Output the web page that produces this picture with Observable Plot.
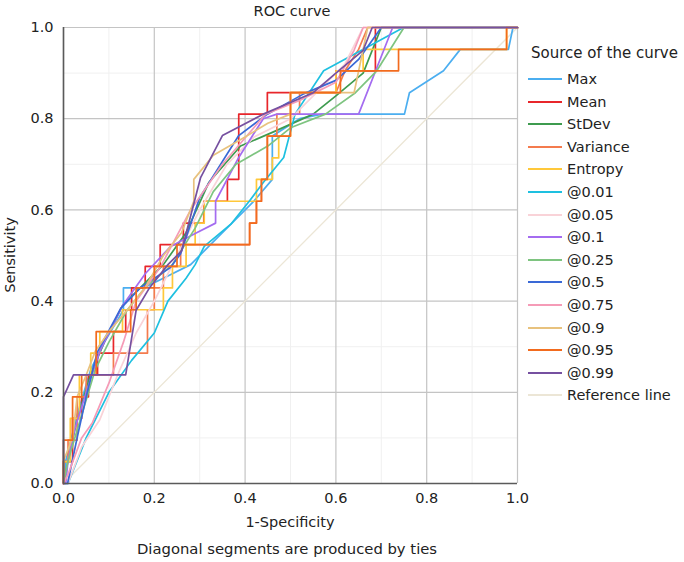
<!DOCTYPE html>
<html><head><meta charset="utf-8">
<script src="https://cdn.jsdelivr.net/npm/d3@7"></script>
<script src="https://cdn.jsdelivr.net/npm/@observablehq/plot@0.6"></script>
<style>
body{margin:0;background:#fff;font-family:"DejaVu Sans",sans-serif;}
#wrap{position:relative;width:684px;height:562px;overflow:hidden;}
.t{position:absolute;color:#222;white-space:nowrap;line-height:1;}
.sw{position:absolute;height:2px;}
</style></head><body><div id="wrap"></div>
<script>
// ---- data ----
const seriesNames = ["Max","Mean","StDev","Variance","Entropy","@0.01","@0.05","@0.1","@0.25","@0.5","@0.75","@0.9","@0.95","@0.99","Reference line"];
const seriesColors = ["#4BAEF0","#E8262B","#3E9B4F","#F47B4E","#FFC83A","#1EC0E0","#F9D3D8","#A46CF0","#7EC480","#3A69D6","#F59BB7","#E8C27E","#F26B1E","#7650A0","#ECE6D6"];
const axisTicks = [0,0.2,0.4,0.6,0.8,1.0];
const minorTicks = [0.1,0.3,0.5,0.7,0.9];

const maxPts = [[0,0],[0.005,0.05],[0.03,0.15],[0.06,0.25],[0.09,0.31],[0.12,0.36],[0.132,0.381],[0.132,0.429],[0.176,0.429],[0.22,0.45],[0.28,0.48],[0.35,0.55],[0.42,0.62],[0.46,0.667],[0.46,0.762],[0.52,0.8],[0.57,0.81],[0.751,0.81],[0.762,0.857],[0.837,0.905],[0.874,0.952],[0.98,0.952],[0.99,1],[1,1]];
const meanPts = [[0,0],[0,0.048],[0.02,0.048],[0.02,0.143],[0.04,0.143],[0.04,0.19],[0.055,0.19],[0.055,0.238],[0.075,0.238],[0.075,0.286],[0.11,0.286],[0.11,0.333],[0.137,0.333],[0.137,0.381],[0.15,0.381],[0.15,0.429],[0.18,0.429],[0.18,0.476],[0.213,0.476],[0.213,0.524],[0.264,0.524],[0.264,0.571],[0.309,0.571],[0.309,0.619],[0.361,0.619],[0.361,0.667],[0.386,0.667],[0.386,0.81],[0.449,0.81],[0.449,0.857],[0.6,0.857],[0.6,0.905],[0.687,0.905],[0.687,1],[1,1]];
const stdevPts = [[0,0],[0.01,0.05],[0.03,0.14],[0.06,0.24],[0.09,0.31],[0.13,0.39],[0.17,0.43],[0.22,0.48],[0.27,0.55],[0.32,0.66],[0.39,0.74],[0.46,0.77],[0.55,0.81],[0.6,0.85],[0.66,0.9],[0.7,1],[1,1]];
const variancePts = [[0,0],[0,0.048],[0.01,0.048],[0.01,0.095],[0.03,0.095],[0.03,0.19],[0.05,0.19],[0.05,0.238],[0.11,0.238],[0.11,0.286],[0.185,0.286],[0.185,0.381],[0.2,0.381],[0.2,0.429],[0.22,0.429],[0.22,0.476],[0.258,0.476],[0.258,0.524],[0.41,0.524],[0.41,0.571],[0.425,0.571],[0.425,0.619],[0.436,0.619],[0.436,0.667],[0.449,0.667],[0.449,0.762],[0.47,0.762],[0.47,0.81],[0.52,0.81],[0.52,0.857],[0.6,0.857],[0.62,0.905],[0.65,0.952],[0.67,1],[1,1]];
const entropyPts = [[0,0],[0,0.048],[0.015,0.048],[0.015,0.143],[0.035,0.143],[0.035,0.238],[0.06,0.238],[0.06,0.286],[0.08,0.286],[0.08,0.333],[0.13,0.333],[0.13,0.381],[0.22,0.381],[0.22,0.429],[0.24,0.429],[0.24,0.476],[0.27,0.476],[0.27,0.524],[0.29,0.524],[0.29,0.571],[0.31,0.571],[0.31,0.619],[0.425,0.619],[0.425,0.667],[0.46,0.667],[0.46,0.714],[0.474,0.714],[0.474,0.762],[0.5,0.762],[0.5,0.857],[0.6,0.857],[0.6,0.905],[0.66,0.905],[0.66,0.952],[0.976,0.952],[0.976,1],[1,1]];
const p001Pts = [[0,0],[0.01,0],[0.05,0.1],[0.1,0.2],[0.15,0.27],[0.2,0.33],[0.23,0.4],[0.27,0.45],[0.29,0.48],[0.31,0.52],[0.37,0.57],[0.41,0.62],[0.44,0.66],[0.485,0.715],[0.51,0.81],[0.573,0.905],[0.749,1],[1,1]];
const p005Pts = [[0,0],[0.01,0],[0.04,0.08],[0.08,0.14],[0.12,0.24],[0.16,0.33],[0.2,0.4],[0.25,0.5],[0.3,0.6],[0.36,0.7],[0.42,0.76],[0.5,0.8],[0.56,0.86],[0.62,0.92],[0.66,1],[1,1]];
const p01Pts = [[0,0],[0.005,0],[0.01,0.05],[0.025,0.12],[0.05,0.2],[0.08,0.29],[0.13,0.39],[0.18,0.46],[0.236,0.52],[0.29,0.548],[0.335,0.571],[0.335,0.619],[0.386,0.715],[0.44,0.8],[0.47,0.81],[0.65,0.81],[0.725,1],[1,1]];
const p025Pts = [[0,0],[0.01,0.05],[0.04,0.15],[0.07,0.25],[0.1,0.31],[0.14,0.38],[0.18,0.43],[0.24,0.48],[0.29,0.56],[0.33,0.64],[0.38,0.7],[0.45,0.74],[0.5,0.78],[0.577,0.81],[0.643,0.857],[0.69,0.905],[0.75,1],[1,1]];
const p05Pts = [[0,0],[0.009,0],[0.03,0.1],[0.05,0.19],[0.074,0.287],[0.1,0.335],[0.126,0.384],[0.17,0.43],[0.236,0.474],[0.258,0.504],[0.3,0.627],[0.386,0.763],[0.449,0.81],[0.53,0.855],[0.6,0.884],[0.65,0.93],[0.7,1],[1,1]];
const p075Pts = [[0,0],[0.01,0.02],[0.04,0.1],[0.064,0.134],[0.1,0.22],[0.132,0.31],[0.16,0.4],[0.213,0.474],[0.28,0.6],[0.35,0.7],[0.445,0.81],[0.52,0.84],[0.6,0.88],[0.64,0.95],[0.66,1],[1,1]];
const p09Pts = [[0,0],[0,0.05],[0.02,0.1],[0.03,0.19],[0.05,0.238],[0.07,0.29],[0.1,0.333],[0.14,0.38],[0.18,0.43],[0.22,0.5],[0.26,0.55],[0.287,0.619],[0.287,0.667],[0.33,0.72],[0.4,0.76],[0.45,0.79],[0.5,0.81],[0.5,0.857],[0.64,0.857],[0.66,0.952],[0.67,1],[1,1]];
const p095Pts = [[0,0],[0,0.095],[0.02,0.095],[0.02,0.19],[0.04,0.19],[0.04,0.238],[0.072,0.238],[0.072,0.333],[0.148,0.333],[0.148,0.381],[0.16,0.381],[0.16,0.429],[0.2,0.429],[0.2,0.476],[0.25,0.476],[0.25,0.524],[0.41,0.524],[0.41,0.571],[0.425,0.571],[0.425,0.619],[0.436,0.619],[0.436,0.667],[0.449,0.667],[0.449,0.762],[0.5,0.762],[0.5,0.857],[0.61,0.857],[0.61,0.905],[0.738,0.905],[0.738,0.952],[0.976,0.952],[0.976,1],[1,1]];
const p099Pts = [[0,0],[0,0.19],[0.022,0.238],[0.137,0.238],[0.16,0.38],[0.19,0.43],[0.23,0.48],[0.26,0.51],[0.302,0.671],[0.35,0.763],[0.44,0.81],[0.55,0.857],[0.6,0.9],[0.66,0.95],[0.68,1],[1,1]];
const refPts = [[0,0],[1,1]];

const seriesPts = [maxPts,meanPts,stdevPts,variancePts,entropyPts,p001Pts,p005Pts,p01Pts,p025Pts,p05Pts,p075Pts,p09Pts,p095Pts,p099Pts];

// ---- build table ----
const curveRows = [];
seriesPts.forEach((pts,i)=>pts.forEach(([x,y])=>curveRows.push({series:seriesNames[i],x,y})));
const refRows = refPts.map(([x,y])=>({series:"Reference line",x,y}));

const font = "'DejaVu Sans', sans-serif";
const chart = Plot.plot({
  width: 684, height: 562,
  marginLeft: 63, marginRight: 167, marginTop: 27, marginBottom: 79,
  style: {fontFamily: font, fontSize: "14.5px", color: "#222", background: "#fff"},
  x: {domain: [0,1], label: null},
  y: {domain: [0,1], label: null},
  color: {domain: seriesNames, range: seriesColors},
  marks: [
    Plot.gridX(minorTicks, {stroke: "#f0f0f0", strokeOpacity: 1}),
    Plot.gridY(minorTicks, {stroke: "#f0f0f0", strokeOpacity: 1}),
    Plot.gridX(axisTicks, {stroke: "#c4c4c4", strokeOpacity: 1, strokeWidth: 1.2}),
    Plot.gridY(axisTicks, {stroke: "#c4c4c4", strokeOpacity: 1, strokeWidth: 1.2}),
    Plot.line(refRows, {x: "x", y: "y", stroke: "series", strokeWidth: 1.3}),
    Plot.line(curveRows, {x: "x", y: "y", z: "series", stroke: "series", strokeWidth: 1.7, curve: "linear"}),
    Plot.ruleX([0], {stroke: "#5a5a5a", strokeWidth: 1.6}),
    Plot.ruleY([0], {stroke: "#5a5a5a", strokeWidth: 1.6}),
    Plot.axisX(axisTicks, {tickSize: 0, tickPadding: 9, tickFormat: d3.format(".1f"), fontSize: 14.5}),
    Plot.axisY(axisTicks, {tickSize: 0, tickPadding: 10, tickFormat: d3.format(".1f"), fontSize: 14.5})
  ]
});
const wrap = document.getElementById("wrap");
chart.style.position = "absolute"; chart.style.left = "0"; chart.style.top = "0";
wrap.appendChild(chart);

function addText(txt, x, y, size, anchor, rotate){
  const d = document.createElement("div");
  d.className = "t"; d.textContent = txt;
  d.style.fontSize = size + "px";
  d.style.left = x + "px"; d.style.top = y + "px";
  let tr = anchor === "middle" ? "translate(-50%,-50%)" : "translate(0,-50%)";
  if (rotate) tr = "translate(-50%,-50%) rotate(-90deg)";
  d.style.transform = tr;
  wrap.appendChild(d);
}
addText("ROC curve", 292, 11, 14.5, "middle");
addText("Sensitivity", 10, 255, 14.5, "middle", true);
addText("1-Specificity", 290, 522, 14.5, "middle");
addText("Diagonal segments are produced by ties", 287, 549, 14.8, "middle");
addText("Source of the curve", 531, 53, 15, "start");
seriesNames.forEach((n,i)=>{
  const cy = 79 + i*22.6;
  const s = document.createElement("div");
  s.className = "sw"; s.style.left = "528px"; s.style.width = "34px";
  s.style.top = (cy-1) + "px"; s.style.background = seriesColors[i];
  wrap.appendChild(s);
  addText(n, 567, cy, 14.5, "start");
});
</script></body></html>
